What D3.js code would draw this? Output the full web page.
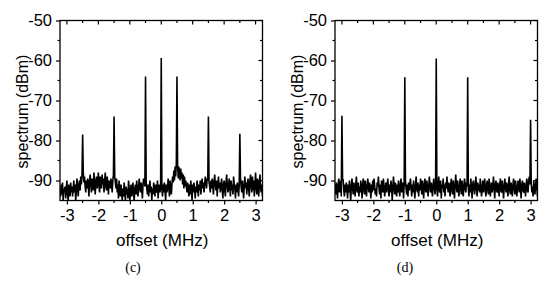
<!DOCTYPE html>
<html>
<head>
<meta charset="utf-8">
<script src="https://cdn.jsdelivr.net/npm/d3@7"></script>
<style>
  body { margin: 0; background: #fff; }
  text { font-family: "Liberation Sans", Arial, sans-serif; fill: #000; }
  .panel-tag { font-family: "Liberation Serif", "Times New Roman", serif; font-size: 14px; }
</style>
</head>
<body>
<div id="chart"></div>
<script>
// sample grid for the noise traces (MHz)
var gridStart = -3.22;
var gridStep = 0.02;

var peakOffsetsC = [-2.5, -1.5, -0.5, 0, 0.5, 1.5, 2.5];
var peakLevelsC = [-78.5, -74, -64, -59.4, -64, -74, -78.3];

var peakOffsetsD = [-3, -1, 0, 1, 3];
var peakLevelsD = [-73.8, -64.2, -59.5, -64.2, -74.8];

var noiseC = [
  -92.5,-94,-91,-93.5,-90.5,-95,-92,-93,-91.5,-94.5,-92,-90,-93.5,-95,-91,-92.5,-94,-90.5,-93,-91.5,
  -94,-92,-90,-93,-91,-95,-92.5,-89.5,-92,-94,-91,-90,-92.5,-89,-91,-88.5,-87.5,-88,-90.5,-89,
  -91.5,-93,-90,-92,-89.5,-91,-94,-90,-88.5,-91,-93,-89.5,-90.5,-92.5,-88,-91,-93.5,-90,-89,-92,
  -90.5,-88,-91.5,-93,-89,-90,-92,-88.5,-91,-89.5,-93,-90,-88,-91.5,-92.5,-89,-90.5,-93.5,-90,-91,
  -92,-89.5,-91,-93,-90,-88.5,-88,-89,-90.5,-92,-89.5,-93,-91,-94.5,-90,-92.5,-94,-91,-93,-95,
  -92,-94,-90.5,-93,-95,-91.5,-93.5,-92,-94.5,-90,-92,-95,-93,-91,-94,-92.5,-90.5,-93.5,-95,-92,
  -91,-93.5,-90,-92.5,-94,-91.5,-89.5,-92,-93,-90.5,-92,-94.5,-91,-89.5,-90,-91.5,-89,-90.5,-92,-93.5,
  -91,-94,-92,-90,-93,-91.5,-95,-92,-93.5,-90.5,-92,-94,-91,-93,-92.5,-90,-94.5,-92,-91,-93,
  -91.5,-90,-92,-94,-91,-93,-90.5,-92.5,-95,-91,-93,-92,-89.5,-91.5,-94,-90,-92,-93.5,-91,-89,
  -90.5,-87.5,-90,-86.5,-89,-85.5,-88.5,-86,-89.5,-86.5,-88,-90,-87,-89.5,-88,-91,-88.5,-92,-89,-91.5,
  -90,-91.5,-93,-90.5,-92,-94,-91,-93.5,-90,-92.5,-95,-91,-93,-90.5,-92,-94.5,-91.5,-93,-90,-92,
  -94,-91,-92.5,-90,-93.5,-91,-89.5,-92,-90.5,-93,-91,-89,-90.5,-92,-89.5,-90,-89,-90.5,-91.5,-93,
  -90,-92,-89.5,-91.5,-93.5,-90,-88.5,-91,-92.5,-90,-94,-91,-89,-92,-90.5,-93,-91.5,-89.5,-92,-94.5,
  -91,-90,-92.5,-94,-90.5,-88.5,-91,-93,-92,-89.5,-91.5,-94,-90,-92.5,-91,-93.5,-89,-91,-92,-94.5,
  -91,-93,-90.5,-92,-94,-91,-90,-89.5,-91.5,-93,-90,-92.5,-94.5,-91,-89,-92,-90.5,-93.5,-91,-89.5,
  -92,-94,-90,-88.5,-91.5,-93,-89,-92.5,-90,-94,-91,-88,-92,-93.5,-89.5,-91,-94,-90.5,-88.5,-92,
  -93,-91,-94
];

var noiseD = [
  -91,-93.5,-90.5,-92,-94.5,-91,-89.5,-93,-92,-90,-94,-91.5,-89.5,-90,-92.5,-94,-91,-93,-90.5,-92,
  -94.5,-91,-93,-90,-92.5,-95,-91.5,-89.5,-92,-93.5,-90.5,-92,-94,-91,-89,-92.5,-93,-90.5,-94,-91.5,
  -93,-90,-92,-94.5,-91,-89.5,-92.5,-93.5,-90,-91.5,-94,-92,-89.5,-91,-93,-90.5,-92,-94.5,-91,-93,
  -90,-92.5,-89.5,-91,-93.5,-92,-94,-90.5,-91.5,-89,-92,-93.5,-91,-94.5,-90,-92,-93,-89.5,-91.5,-94,
  -92,-90.5,-93,-91,-89.5,-92.5,-94,-91,-93,-90,-92,-95,-91.5,-89,-92,-93.5,-90.5,-92,-94,-91,
  -93,-90,-92.5,-94,-91,-89.5,-93,-92,-90.5,-94.5,-91,-89.5,-90,-92,-93.5,-91,-94,-90.5,-92.5,-91,
  -89.5,-92,-94,-91,-93,-90,-92.5,-94.5,-91.5,-89,-92,-93,-90.5,-94,-91,-92.5,-89.5,-91,-93.5,-90,
  -92,-94.5,-91,-89.5,-92.5,-93,-90,-91.5,-94,-92,-89,-91,-93,-90.5,-92.5,-94,-91,-89.5,-92,-93.5,
  -91,-90,-92,-94,-91.5,-89,-92.5,-93,-90,-94.5,-91,-92,-89.5,-93,-91,-94,-90.5,-92,-89,-91.5,
  -93,-90.5,-92,-94,-91,-89.5,-92.5,-93.5,-90,-92,-94.5,-91,-88.5,-91.5,-93,-90,-92,-94,-91.5,-89.5,
  -92,-93.5,-90,-92.5,-94,-91,-89.5,-92,-93,-90.5,-91.5,-90,-92,-94,-91,-93,-89.5,-92.5,-94.5,-91,
  -90,-92,-93.5,-91,-89,-92,-94,-90.5,-92.5,-91,-93,-89.5,-91.5,-94,-92,-90,-93,-91.5,-89.5,-92.5,
  -94,-91,-90,-92.5,-93.5,-89.5,-91,-94,-92,-90.5,-93,-91.5,-89,-92,-94.5,-91,-90,-92.5,-93,-90.5,
  -92,-94,-91,-89.5,-92.5,-93,-90,-91.5,-94.5,-92,-89.5,-91,-93,-90.5,-92,-94,-91,-89,-92.5,-93.5,
  -90.5,-92,-94,-91,-89.5,-92,-93.5,-90,-91.5,-94,-92.5,-90,-91,-93,-89.5,-92,-94.5,-91,-90,-92.5,
  -93,-90.5,-92,-94,-91,-89.5,-92.5,-93,-90,-89,-91,-92,-90.5,-93,-91.5,-94,-90,-92,-93.5,-91,
  -89.5,-92,-94
];

var xTicks = [-3, -2, -1, 0, 1, 2, 3];
var yTicks = [-50, -60, -70, -80, -90];

var panels = [
  {tag: "(c)", noise: noiseC, peakOffsets: peakOffsetsC, peakLevels: peakLevelsC, dx: 0, tagX: 133},
  {tag: "(d)", noise: noiseD, peakOffsets: peakOffsetsD, peakLevels: peakLevelsD, dx: 275, tagX: 130}
];

var layout = {top: 20.5, left: 60, width: 202.5, height: 180};

var svg = d3.select("#chart")
  .append("svg")
  .attr("width", 550)
  .attr("height", 281);

var x = d3.scaleLinear().domain([-3.22, 3.22]).range([0, layout.width]);
var y = d3.scaleLinear().domain([-95, -50]).range([layout.height, 0]);

// plain hyphen like the original figure
var fmt = function(d) { return String(d); };

panels.forEach(function(p, k) {
  var g = svg.append("g")
    .attr("transform", "translate(" + (p.dx + layout.left) + "," + layout.top + ")");

  // build trace from the noise grid, peaks replace the nearest sample
  var pts = p.noise.map(function(v, i) { return [gridStart + i * gridStep, v]; });
  p.peakOffsets.forEach(function(o, j) {
    var i = Math.round((o - gridStart) / gridStep);
    pts[i] = [o, p.peakLevels[j]];
  });

  g.append("clipPath")
    .attr("id", "clip" + k)
    .append("rect")
    .attr("width", layout.width)
    .attr("height", layout.height);

  g.append("path")
    .datum(pts)
    .attr("clip-path", "url(#clip" + k + ")")
    .attr("fill", "none")
    .attr("stroke", "#000")
    .attr("stroke-width", 1.6)
    .attr("d", d3.line().x(function(d) { return x(d[0]); }).y(function(d) { return y(d[1]); }));

  var minorX = d3.range(-3, 3.01, 0.5);
  var minorY = d3.range(-90, -49, 5);

  // left axis, ticks outward
  var left = g.append("g")
    .call(d3.axisLeft(y).tickValues(yTicks).tickSize(4).tickPadding(4).tickFormat(fmt));
  left.select(".domain").remove();
  left.selectAll("text").attr("font-size", 16.5).attr("font-family", null);
  left.selectAll("line").attr("stroke-width", 1.2);
  g.append("g").selectAll("line")
    .data(minorY.filter(function(v) { return v % 10 !== 0; }))
    .enter().append("line")
    .attr("x1", -2.5).attr("x2", 0)
    .attr("y1", function(d) { return y(d); }).attr("y2", function(d) { return y(d); })
    .attr("stroke", "#000").attr("stroke-width", 1.2);

  // bottom axis, ticks outward
  var bottom = g.append("g")
    .attr("transform", "translate(0," + layout.height + ")")
    .call(d3.axisBottom(x).tickValues(xTicks).tickSize(4).tickPadding(5).tickFormat(fmt));
  bottom.select(".domain").remove();
  bottom.selectAll("text").attr("font-size", 16.5).attr("font-family", null);
  bottom.selectAll("line").attr("stroke-width", 1.2);
  g.append("g").selectAll("line")
    .data(minorX.filter(function(v) { return v % 1 !== 0; }))
    .enter().append("line")
    .attr("x1", function(d) { return x(d); }).attr("x2", function(d) { return x(d); })
    .attr("y1", layout.height).attr("y2", layout.height + 2.5)
    .attr("stroke", "#000").attr("stroke-width", 1.2);

  // mirrored ticks on top and right, pointing inward
  g.append("g").selectAll("line")
    .data(minorX)
    .enter().append("line")
    .attr("x1", function(d) { return x(d); }).attr("x2", function(d) { return x(d); })
    .attr("y1", 0).attr("y2", function(d) { return d % 1 === 0 ? 4 : 2.5; })
    .attr("stroke", "#000").attr("stroke-width", 1.2);
  g.append("g").selectAll("line")
    .data(minorY)
    .enter().append("line")
    .attr("x1", layout.width).attr("x2", function(d) { return layout.width - (d % 10 === 0 ? 4 : 2.5); })
    .attr("y1", function(d) { return y(d); }).attr("y2", function(d) { return y(d); })
    .attr("stroke", "#000").attr("stroke-width", 1.2);

  g.append("rect")
    .attr("width", layout.width)
    .attr("height", layout.height)
    .attr("fill", "none")
    .attr("stroke", "#000")
    .attr("stroke-width", 1.3);

  g.append("text")
    .attr("text-anchor", "middle")
    .attr("x", layout.width / 2 + 1)
    .attr("y", layout.height + 45)
    .attr("font-size", 17)
    .text("offset (MHz)");

  g.append("text")
    .attr("text-anchor", "middle")
    .attr("dominant-baseline", "central")
    .attr("transform", "translate(-38," + (layout.height / 2 + 1) + ")rotate(-90)")
    .attr("font-size", 16)
    .text("spectrum (dBm)");

  svg.append("text")
    .attr("class", "panel-tag")
    .attr("text-anchor", "middle")
    .attr("x", p.dx + p.tagX)
    .attr("y", 272)
    .text(p.tag);
});
</script>
</body>
</html>
